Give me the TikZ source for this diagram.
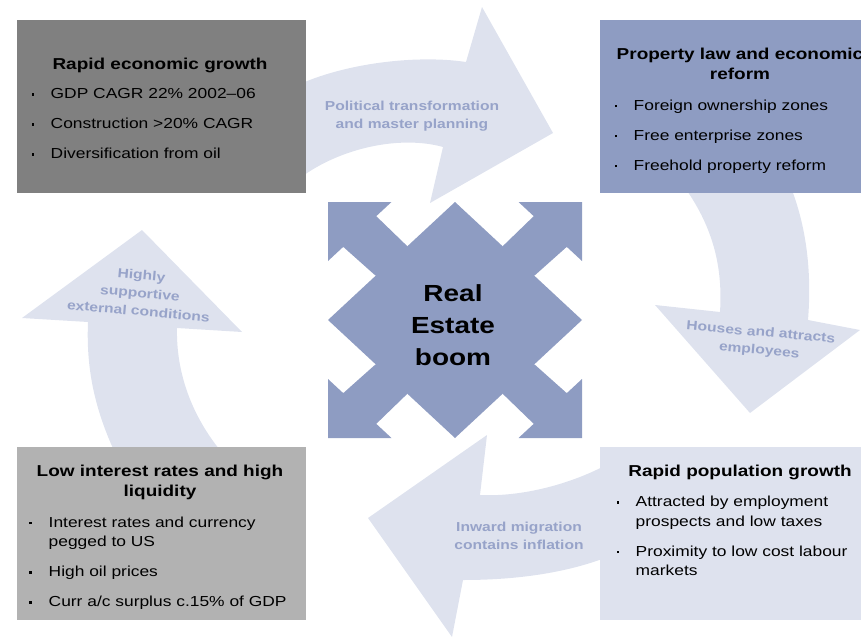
\documentclass[tikz,border=0pt]{standalone}
\usepackage{fontspec}
\setmainfont{Liberation Sans}[FakeStretch=1.2]

\definecolor{boxdark}{HTML}{808080}
\definecolor{boxlight}{HTML}{B2B2B2}
\definecolor{starblue}{HTML}{8E9CC2}
\definecolor{palearrow}{HTML}{DEE2EE}
\definecolor{labelblue}{HTML}{97A3C9}

\newcommand{\bul}{\makebox[19.5pt][l]{\hspace{0.3pt}\rule[3.2pt]{2.4pt}{2.4pt}}}
\newcommand{\ind}{\hspace*{19.5pt}}

\tikzset{
	box/.style={rectangle, inner sep=0pt, minimum width=289pt, minimum height=173pt, anchor=north west},
	boxtitle/.style={inner sep=0pt, align=center, font=\fontsize{15.8}{20}\selectfont\bfseries},
	boxlist/.style={inner sep=0pt, align=left, anchor=north west, font=\fontsize{14.5}{19.5}\selectfont},
	arrowtext/.style={inner sep=0pt, align=center, text=labelblue, font=\fontsize{13}{18}\selectfont\bfseries}
}

\begin{document}
\begin{tikzpicture}[x=1pt, y=-1pt]
		\useasboundingbox (0,0) rectangle (861,637);
		\clip (0,0) rectangle (861,637);

		% curved arrows of the cycle
		\fill[palearrow] (300,84) .. controls (350,62) and (420,55) .. (466,62) -- (482,7) -- (553,133) -- (430,203) -- (443,147) .. controls (400,135) and (340,148) .. (300,178) -- cycle;
		\fill[palearrow] (683,185) .. controls (712,225) and (723,265) .. (720,312) -- (655,305) -- (750,413) -- (860,330) -- (808,320) .. controls (812,270) and (806,225) .. (790,185) -- cycle;
		\fill[palearrow] (610,463) .. controls (570,485) and (520,497) .. (480,495) -- (487,435) -- (368,518) -- (452,637) -- (463,580) .. controls (520,580) and (570,572) .. (610,556) -- cycle;
		\fill[palearrow] (116,455) .. controls (95,410) and (86,370) .. (88,322) -- (22,318) -- (142,230) -- (242,332) -- (177,328) .. controls (176,370) and (190,415) .. (224,455) -- cycle;

		\node[arrowtext] (politics) at (412,116) {Political transformation\\and master planning};
		\node[arrowtext, rotate=-5] (houses) at (760,342) {Houses and attracts\\employees};
		\node[arrowtext] (migration) at (519,536) {Inward migration\\contains inflation};
		\node[arrowtext, rotate=-5] (external) at (140,293) {Highly\\supportive\\external conditions};

		% boxes
		\node[box, fill=boxdark] (growth) at (17,20) {};
		\node[box, fill=starblue, minimum width=270pt] (reform) at (600,20) {};
		\node[box, fill=boxlight] (liquidity) at (17,447) {};
		\node[box, fill=palearrow, minimum width=270pt] (population) at (600,447) {};

		\node[boxtitle, anchor=base] (growthtitle) at (160,69) {Rapid economic growth};
		\node[boxtitle, anchor=north] (reformtitle) at (740,47.7) {Property law and economic\\reform};
		\node[boxtitle, anchor=north] (liquiditytitle) at (160,464.7) {Low interest rates and high\\liquidity};
		\node[boxtitle, anchor=base] (populationtitle) at (740,476) {Rapid population growth};

		\node[boxlist] (growthlist) at (31,88.5) {\bul GDP CAGR 22\% 2002--06\\[10.5pt]\bul Construction >20\% CAGR\\[10.5pt]\bul Diversification from oil};
		\node[boxlist] (reformlist) at (614,99.5) {\bul Foreign ownership zones\\[10.5pt]\bul Free enterprise zones\\[10.5pt]\bul Freehold property reform};
		\node[boxlist] (liquiditylist) at (29,516.5) {\bul Interest rates and currency\\\ind pegged to US\\[10.5pt]\bul High oil prices\\[10.5pt]\bul Curr a/c surplus c.15\% of GDP};
		\node[boxlist] (populationlist) at (616,496) {\bul Attracted by employment\\\ind prospects and low taxes\\[10.5pt]\bul Proximity to low cost labour\\\ind markets};

		% centre star
		\begin{scope}[shift={(455,320)}, x=127pt, y=118pt]
			\fill[starblue] (0,1) -- (1,0) -- (0,-1) -- (-1,0) -- cycle;
			\foreach \sx/\sy in {1/1,1/-1,-1/1,-1/-1}
				\fill[starblue, xscale=\sx, yscale=\sy] (0,0) -- (0.38,0.63) -- (0.62,0.88) -- (0.5,1) -- (1,1) -- (1,0.5) -- (0.88,0.62) -- (0.63,0.38) -- cycle;
		\end{scope}
		\node[align=center, anchor=north, inner sep=0pt, font=\fontsize{23.3}{32}\selectfont\bfseries] (boom) at (453,284) {Real\\Estate\\boom};
\end{tikzpicture}
\end{document}
